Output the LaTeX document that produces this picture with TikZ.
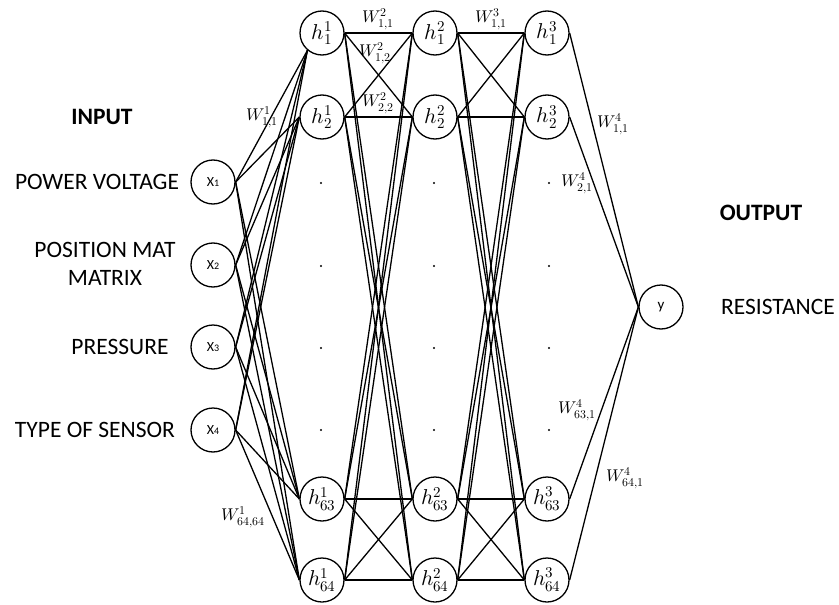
\documentclass[tikz,border=0pt]{standalone}
\usepackage{fontspec}
\usepackage{unicode-math}
\setmainfont{Carlito}
\setmathfont{latinmodern-math.otf}
\begin{document}
\begin{tikzpicture}[x=1pt,y=-1pt,
  neuron/.style={circle,draw,line width=1.3pt,minimum size=44pt,inner sep=0pt,font=\fontsize{21.5}{21.5}\selectfont},
  innode/.style={circle,draw,line width=1.3pt,minimum size=44pt,inner sep=0pt},
  conn/.style={line width=1.3pt},
  side/.style={font=\fontsize{23.5}{28}\selectfont,align=center},
  wlab/.style={font=\fontsize{17}{17}\selectfont,inner sep=0pt},
  dotn/.style={circle,fill,inner sep=0pt,minimum size=2.2pt}]
\useasboundingbox (0,0) rectangle (839,605);
% input nodes
\newcommand{\xlab}[1]{{\fontsize{14}{14}\selectfont X}{\fontsize{10}{10}\selectfont #1}}
\node[innode] (x1) at (213,182) {\xlab{1}};
\node[innode] (x2) at (213,265) {\xlab{2}};
\node[innode] (x3) at (213,347) {\xlab{3}};
\node[innode] (x4) at (213,430) {\xlab{4}};
% hidden layers
\foreach \l/\X in {1/322,2/435,3/547}{
  \node[neuron] (L\l-1) at (\X,33) {$h^{\l}_{1}$};
  \node[neuron] (L\l-2) at (\X,117) {$h^{\l}_{2}$};
  \node[neuron] (L\l-63) at (\X,499) {$h^{\l}_{63}$};
  \node[neuron] (L\l-64) at (\X,580) {$h^{\l}_{64}$};
}
% dots
\foreach \l/\X in {1/321,2/434,3/549}{
  \foreach \k/\Y in {a/183,b/266,c/348,d/430}{
    \node[dotn] (d\l\k) at (\X,\Y) {};
  }
}
% output
\node[innode] (y) at (661,307) {{\fontsize{15}{15}\selectfont y}};
% input -> layer 1
\foreach \i in {1,2,3,4}{
  \draw[conn] (x\i.east) -- (L1-1.230);
  \draw[conn] (x\i.east) -- (L1-2.west);
  \draw[conn] (x\i.east) -- (L1-63.west);
  \draw[conn] (x\i.east) -- (L1-64.west);
}
% layer -> layer
\foreach \a/\b in {1/2,2/3}{
  \foreach \p in {1,2,63,64}{
    \foreach \q in {1,2,63,64}{
      \draw[conn] (L\a-\p.east) -- (L\b-\q.west);
    }
  }
}
% layer 3 -> output
\foreach \p in {1,2,63,64}{
  \draw[conn] (L3-\p.east) -- (y.west);
}
% weight labels
\node[wlab] (w1a) at (262,117) {$W^{1}_{1,1}$};
\node[wlab] (w1b) at (243,517) {$W^{1}_{64,64}$};
\node[wlab] (w2a) at (378,19) {$W^{2}_{1,1}$};
\node[wlab] (w2b) at (375,53) {$W^{2}_{1,2}$};
\node[wlab] (w2c) at (378,103) {$W^{2}_{2,2}$};
\node[wlab] (w3a) at (491,19) {$W^{3}_{1,1}$};
\node[wlab] (w4a) at (613,124) {$W^{4}_{1,1}$};
\node[wlab] (w4b) at (577,183) {$W^{4}_{2,1}$};
\node[wlab] (w4c) at (577,410) {$W^{4}_{63,1}$};
\node[wlab] (w4d) at (625,478) {$W^{4}_{64,1}$};
% side texts
\node[side,font=\fontsize{23.5}{28}\selectfont\bfseries] (tin) at (102,117) {INPUT};
\node[side] (t1) at (97,182) {POWER VOLTAGE};
\node[side] (t2) at (105,264) {POSITION MAT\\MATRIX};
\node[side] (t3) at (120,347) {PRESSURE};
\node[side] (t4) at (95,430) {TYPE OF SENSOR};
\node[side,font=\fontsize{23.5}{28}\selectfont\bfseries] (tout) at (761,213) {OUTPUT};
\node[side] (tres) at (778,307) {RESISTANCE};
\end{tikzpicture}
\end{document}
